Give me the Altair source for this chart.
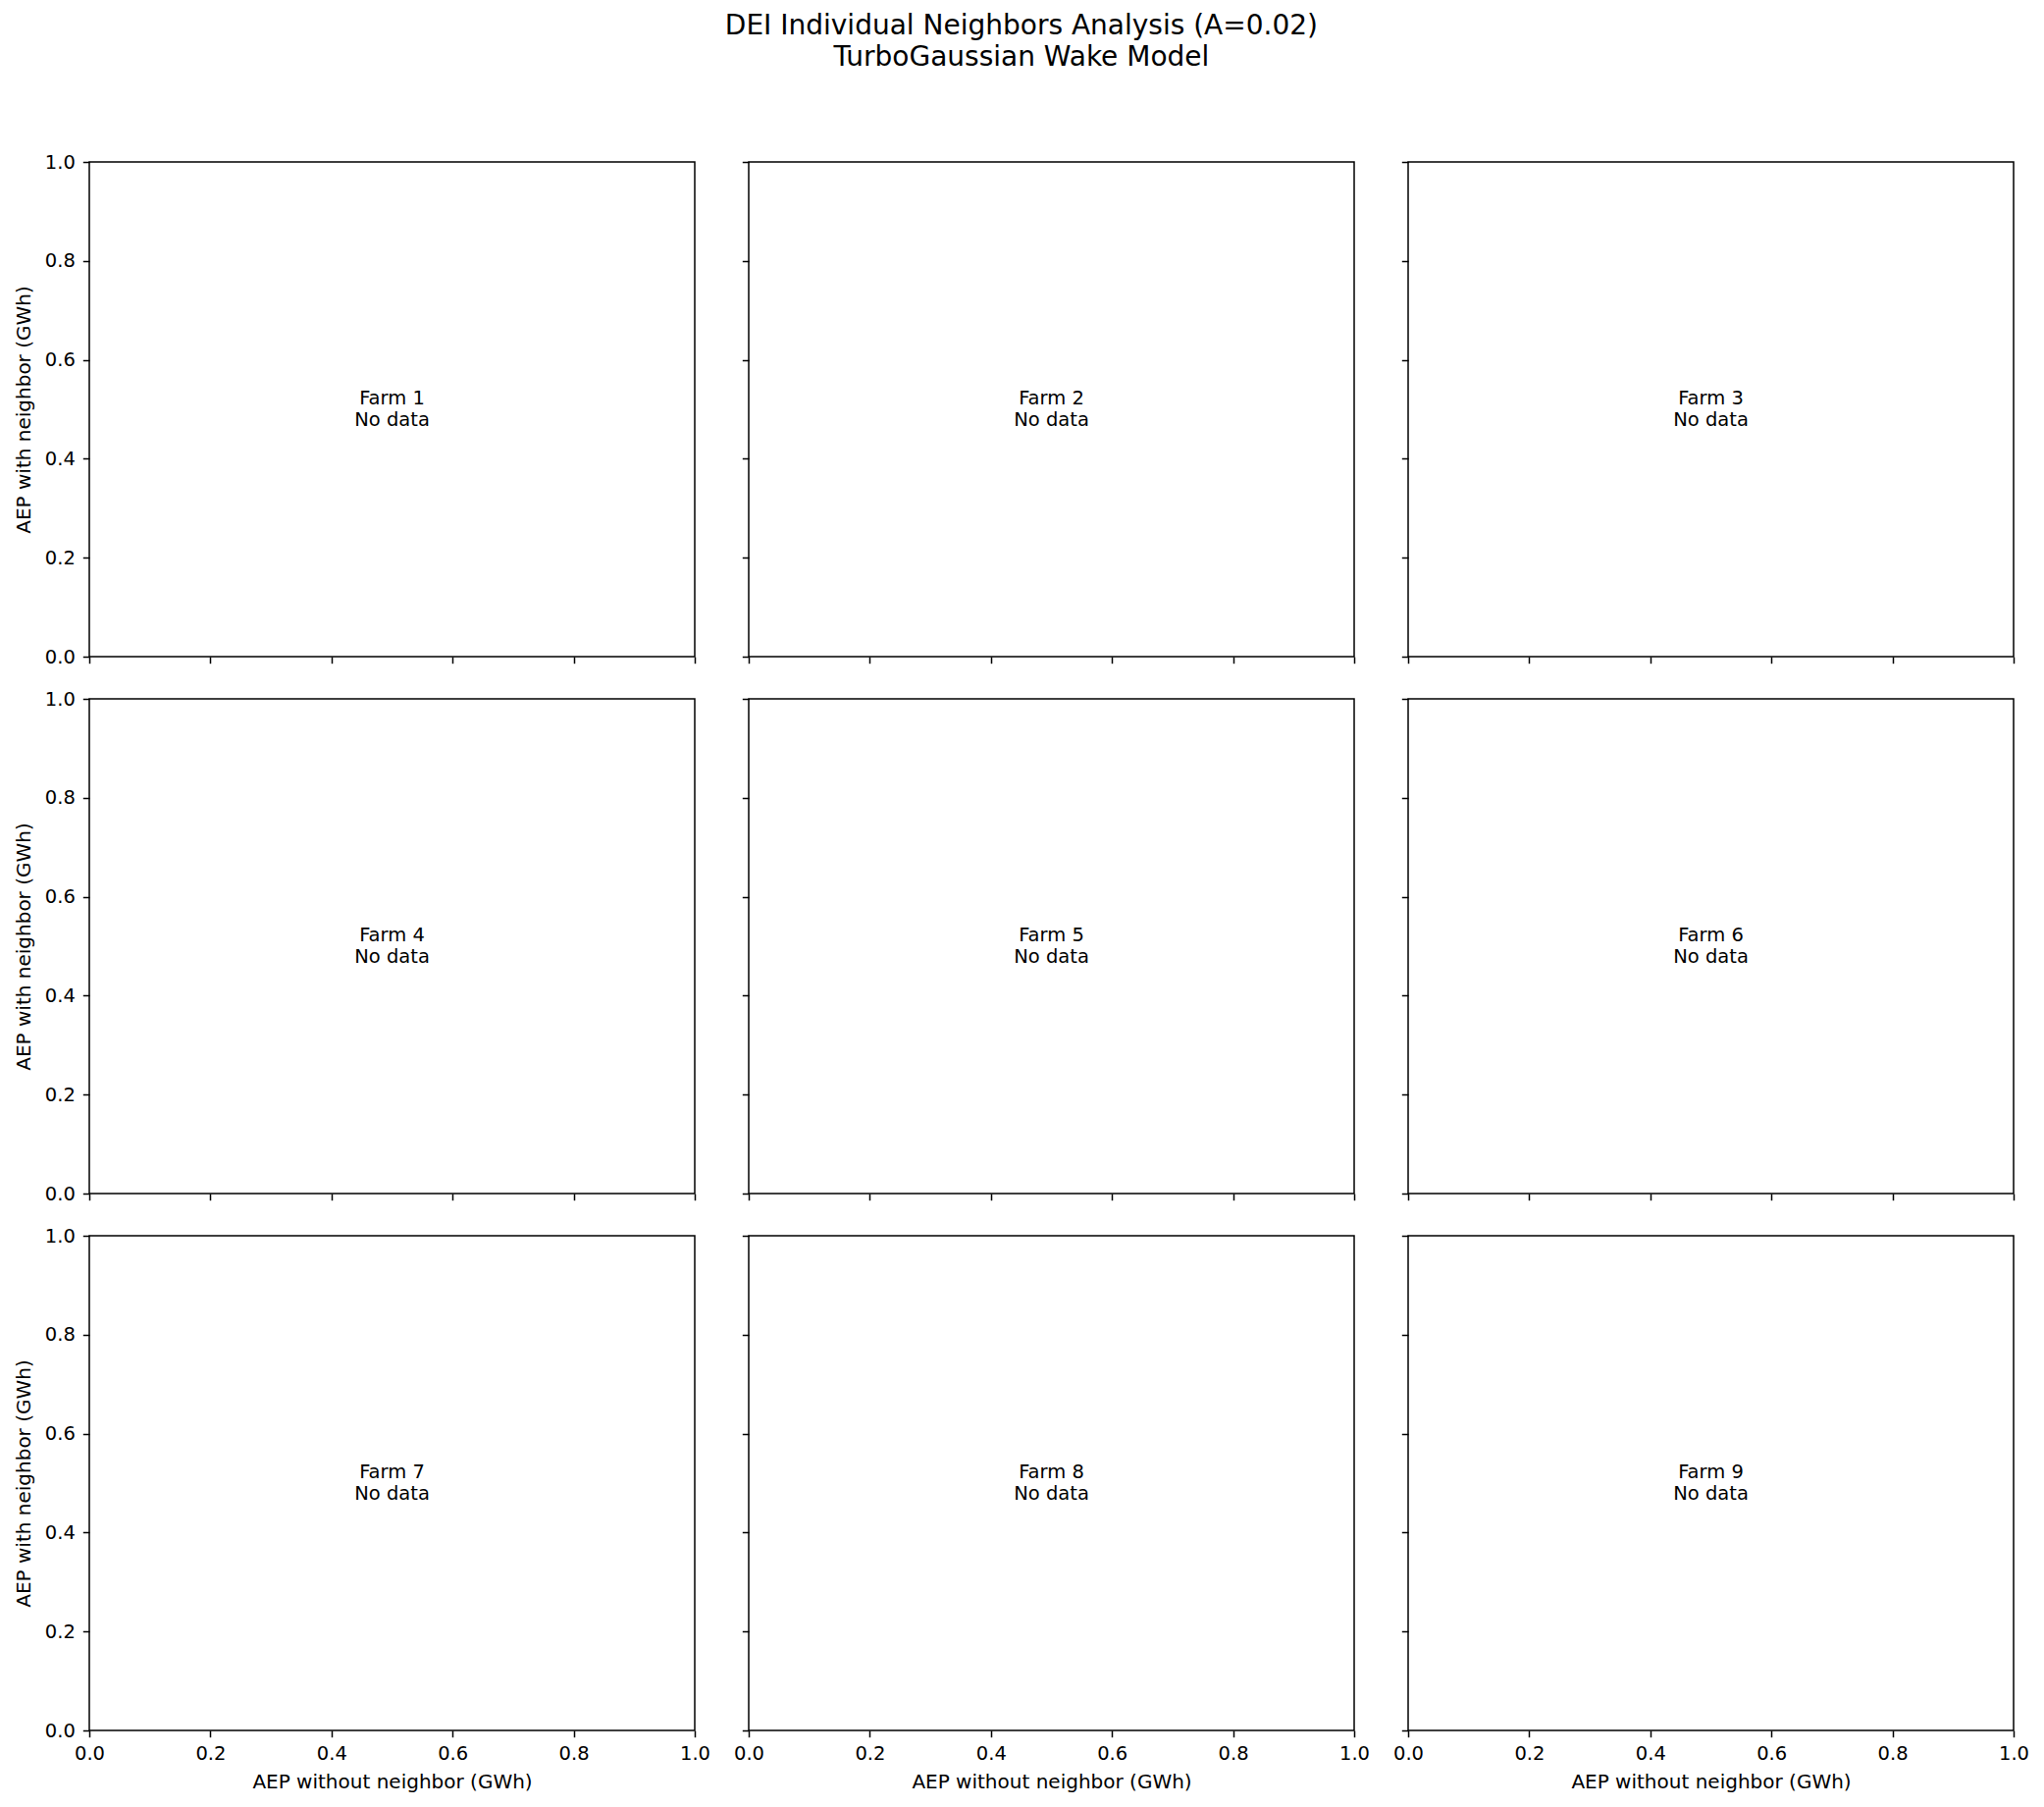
import altair as alt
import pandas as pd

# ---- data ----
farms = ["Farm 1", "Farm 2", "Farm 3", "Farm 4", "Farm 5", "Farm 6", "Farm 7", "Farm 8", "Farm 9"]
status = ["No data"] * 9
tick_values = [0.0, 0.2, 0.4, 0.6, 0.8, 1.0]
axis_domain = [0.0, 1.0]
axis_mid = 0.5
x_title = "AEP without neighbor (GWh)"
y_title = "AEP with neighbor (GWh)"
title_lines = ["DEI Individual Neighbors Analysis (A=0.02)", "TurboGaussian Wake Model"]

# ---- layout ----
PANEL_W = 617
PANEL_H = 504
COL_GAP = 55
ROW_GAP = 43
NCOLS = 3
FONT = "DejaVu Sans"
TEXT_LH = 22.7

panels = []
for i, (farm, st) in enumerate(zip(farms, status)):
    r, c = divmod(i, NCOLS)
    bottom = r == 2
    left = c == 0
    df = pd.DataFrame({"label": [f"{farm}\n{st}"]})
    xaxis = alt.Axis(
        values=tick_values, format=".1f", labels=bottom,
        title=x_title if bottom else "", grid=False, domain=False,
        labelFlush=False,
    )
    yaxis = alt.Axis(
        values=tick_values, format=".1f", labels=left,
        title=y_title if left else "", grid=False, domain=False,
        labelFlush=False,
    )
    ch = alt.Chart(df).mark_text(
        lineBreak="\n", fontSize=19.5, lineHeight=TEXT_LH, align="center",
        baseline="middle", color="black", font=FONT, dy=-TEXT_LH / 2,
    ).encode(
        x=alt.XDatum(axis_mid, type="quantitative",
                     scale=alt.Scale(domain=axis_domain, nice=False, zero=False),
                     axis=xaxis),
        y=alt.YDatum(axis_mid, type="quantitative",
                     scale=alt.Scale(domain=axis_domain, nice=False, zero=False),
                     axis=yaxis),
        text="label:N",
    ).properties(width=PANEL_W, height=PANEL_H)
    panels.append(ch)

chart = alt.concat(
    *panels, columns=NCOLS,
    spacing={"row": ROW_GAP, "column": COL_GAP},
    bounds="flush",
).properties(
    title=alt.TitleParams(
        text=title_lines, fontSize=28, fontWeight="normal", lineHeight=32,
        anchor="middle", color="black", font=FONT, offset=81,
    ),
    padding={"left": 5, "top": 5, "right": 5, "bottom": 5},
).configure_view(
    stroke="black", strokeWidth=1.5,
).configure_axis(
    tickColor="black", tickWidth=1.5, tickSize=6.7,
    labelColor="black", labelFont=FONT, labelFontSize=19.5, labelPadding=8,
    titleColor="black", titleFont=FONT, titleFontSize=20, titleFontWeight="normal",
).configure_axisX(
    titlePadding=9,
).configure_axisY(
    titlePadding=11,
)

chart.save("out.html", embed_options={"renderer": "svg", "actions": False})
